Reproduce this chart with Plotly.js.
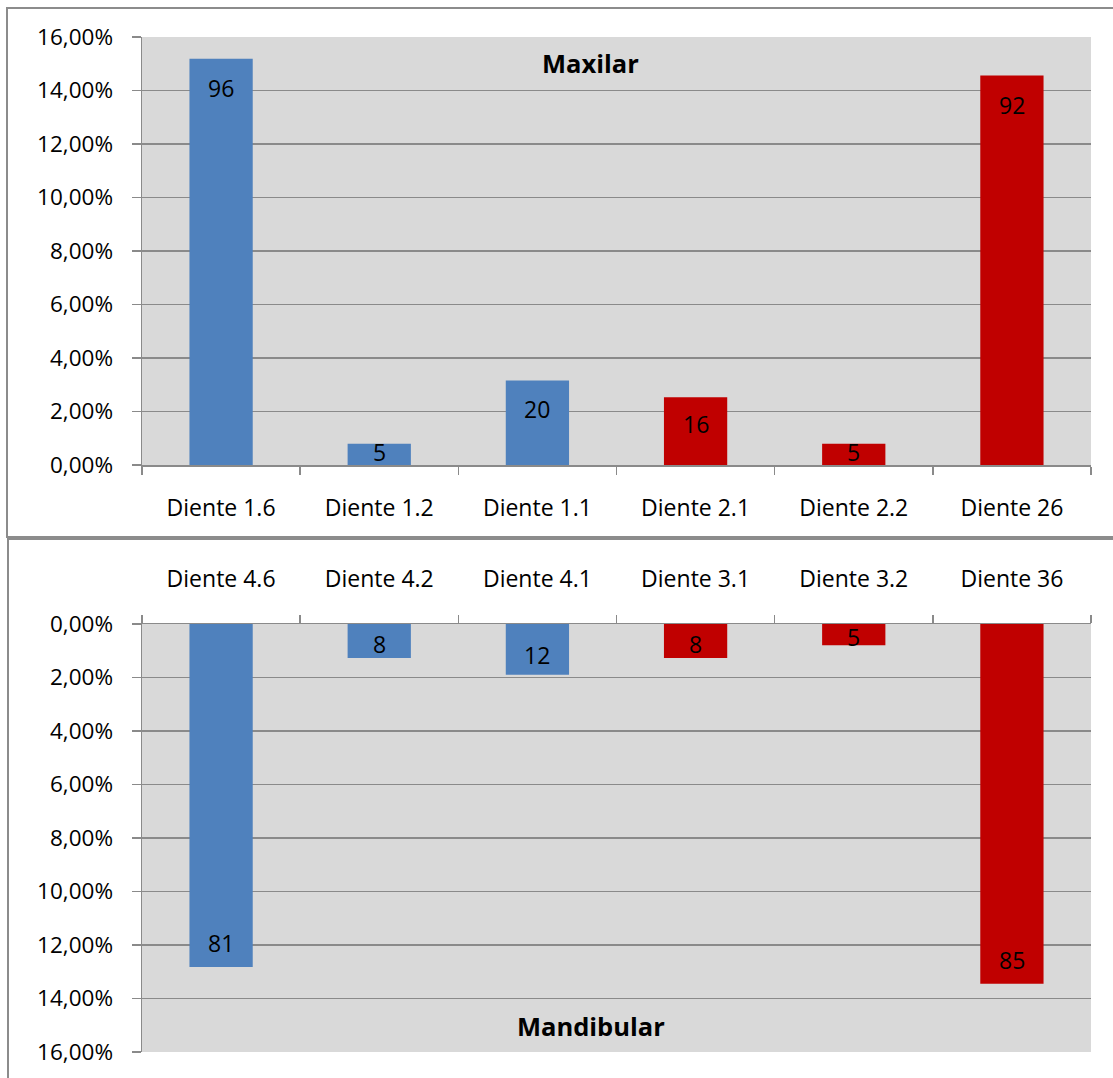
<!DOCTYPE html>
<html>
<head>
<meta charset="utf-8">
<script src="https://cdn.plot.ly/plotly-3.0.1.min.js"></script>
<style>
  html, body { margin: 0; padding: 0; background: #ffffff; }
  #chart { width: 1113px; height: 1078px; }
</style>
</head>
<body>
<div id="chart"></div>
<script>
// Upper jaw (Maxilar): teeth, counts and share of the total
const maxilarTeeth = ['Diente 1.6', 'Diente 1.2', 'Diente 1.1', 'Diente 2.1', 'Diente 2.2', 'Diente 26'];
const maxilarCounts = [96, 5, 20, 16, 5, 92];
const maxilarShare = [0.1519, 0.0079, 0.0316, 0.0253, 0.0079, 0.1456];

// Lower jaw (Mandibular)
const mandibularTeeth = ['Diente 4.6', 'Diente 4.2', 'Diente 4.1', 'Diente 3.1', 'Diente 3.2', 'Diente 36'];
const mandibularCounts = [81, 8, 12, 8, 5, 85];
const mandibularShare = [0.1282, 0.0127, 0.0190, 0.0127, 0.0079, 0.1345];

const yTickValues = [0, 0.02, 0.04, 0.06, 0.08, 0.10, 0.12, 0.14, 0.16];

// Right side of the mouth in blue, left side in red
const sideColors = ['#4F81BD', '#4F81BD', '#4F81BD', '#C00000', '#C00000', '#C00000'];

const W = 1113, H = 1078;
const px = v => v / W;
const py = v => 1 - v / H;

const FONT = '"Open Sans", "Noto Sans", sans-serif';
const GRID = '#8A8A8A';

// Plot areas in page pixels
const plotLeft = 142, plotRight = 1091;
const topPlot = { top: 37, bottom: 465 };
const botPlot = { top: 624, bottom: 1052 };
const pxPerUnit = (topPlot.bottom - topPlot.top) / 0.16;

const traces = [
  {
    type: 'bar', x: maxilarTeeth, y: maxilarShare, xaxis: 'x', yaxis: 'y',
    marker: { color: sideColors }, hoverinfo: 'x+y', showlegend: false
  },
  {
    type: 'bar', x: mandibularTeeth, y: mandibularShare, xaxis: 'x2', yaxis: 'y2',
    marker: { color: sideColors }, hoverinfo: 'x+y', showlegend: false
  }
];

// Count labels sitting inside the end of each bar
function countLabels(teeth, share, counts, xref, yref, cap, dir) {
  return teeth.map((t, i) => {
    const len = share[i] * pxPerUnit;
    const off = Math.min(cap, 0.4 * len);
    return {
      x: t, y: share[i], xref: xref, yref: yref, showarrow: false,
      text: String(counts[i]), yanchor: 'middle', xanchor: 'center',
      yshift: dir * off,
      font: { family: FONT, size: 23, color: '#000000' }
    };
  });
}

const annotations = []
  .concat(countLabels(maxilarTeeth, maxilarShare, maxilarCounts, 'x', 'y', 29, -1))
  .concat(countLabels(mandibularTeeth, mandibularShare, mandibularCounts, 'x2', 'y2', 24, 1))
  .concat([
    { text: '<b>Maxilar</b>', xref: 'paper', yref: 'paper', x: px(590), y: py(63),
      xanchor: 'center', yanchor: 'middle', showarrow: false,
      font: { family: FONT, size: 25.5, color: '#000000' } },
    { text: '<b>Mandibular</b>', xref: 'paper', yref: 'paper', x: px(591), y: py(1026),
      xanchor: 'center', yanchor: 'middle', showarrow: false,
      font: { family: FONT, size: 25.5, color: '#000000' } }
  ]);

const xCommon = {
  type: 'category', showgrid: false, showline: true, linecolor: GRID, linewidth: 1.5,
  ticks: 'outside', ticklen: 8, tickcolor: GRID, tickwidth: 1.5, tickson: 'boundaries',
  tickfont: { family: FONT, size: 23, color: '#000000' },
  domain: [px(plotLeft), px(plotRight)], fixedrange: true
};

const yCommon = {
  tickvals: yTickValues, tickformat: '.2%', showgrid: true, gridcolor: GRID, gridwidth: 1.5,
  zeroline: false, showline: true, linecolor: GRID, linewidth: 1.5,
  ticks: 'outside', ticklen: 9, tickcolor: GRID, tickwidth: 1.5,
  tickfont: { family: FONT, size: 22.5, color: '#000000' }, ticklabelstandoff: 14,
  fixedrange: true
};

const layout = {
  width: W, height: H,
  margin: { l: 0, r: 0, t: 0, b: 0, pad: 0 },
  paper_bgcolor: '#ffffff', plot_bgcolor: '#D9D9D9',
  separators: ',.',
  bargap: 0.6,
  showlegend: false,
  xaxis: Object.assign({}, xCommon, { anchor: 'y', side: 'bottom', ticklabelstandoff: 22 }),
  yaxis: Object.assign({}, yCommon, { anchor: 'x', range: [0, 0.16],
    domain: [py(topPlot.bottom), py(topPlot.top)] }),
  xaxis2: Object.assign({}, xCommon, { anchor: 'y2', side: 'top', ticklabelstandoff: 26 }),
  yaxis2: Object.assign({}, yCommon, { anchor: 'x2', range: [0.16, 0],
    domain: [py(botPlot.bottom), py(botPlot.top)] }),
  annotations: annotations,
  shapes: [
    // chart frames
    { type: 'rect', xref: 'paper', yref: 'paper', x0: px(7), x1: px(1125), y0: py(8), y1: py(537),
      line: { color: '#8C8C8C', width: 2 }, fillcolor: 'rgba(0,0,0,0)', layer: 'above' },
    { type: 'rect', xref: 'paper', yref: 'paper', x0: px(8), x1: px(1125), y0: py(539), y1: py(1095),
      line: { color: '#8C8C8C', width: 2 }, fillcolor: 'rgba(0,0,0,0)', layer: 'above' }
  ]
};

Plotly.newPlot('chart', traces, layout, { displayModeBar: false, staticPlot: true });
</script>
</body>
</html>
